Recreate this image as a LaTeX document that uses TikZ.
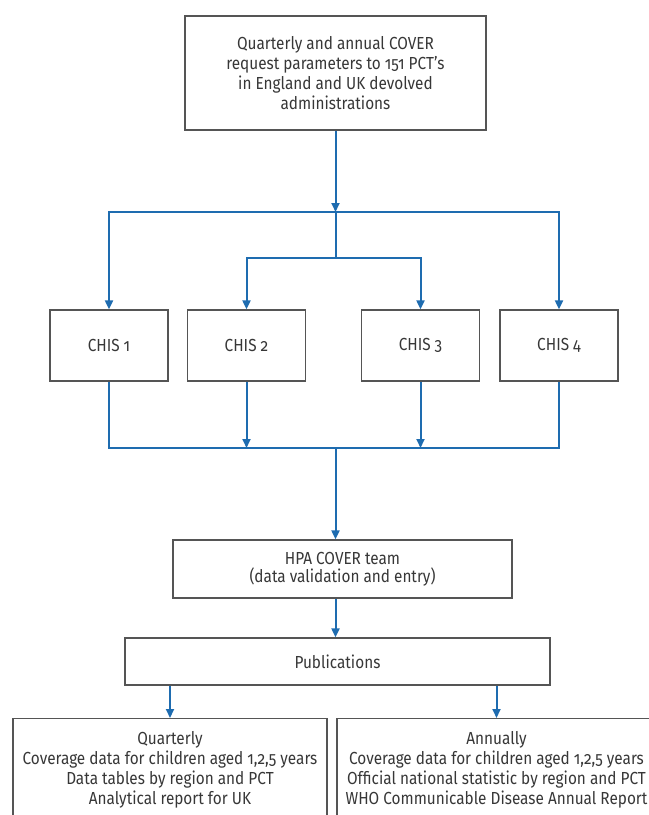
\documentclass[tikz,border=0pt]{standalone}
\usepackage{fontspec}
\setmainfont{Fira Sans}[Numbers=OldStyle,FakeStretch=0.88]
\usetikzlibrary{arrows.meta}
\definecolor{linkblue}{RGB}{30,108,176}
\definecolor{framegray}{RGB}{85,85,85}
\definecolor{textgray}{RGB}{55,55,55}

\begin{document}
\begin{tikzpicture}[x=1bp,y=-1bp,
  box/.style={draw=framegray,line width=1.3bp,text=textgray,align=center,inner sep=0pt,font=\fontsize{17.5}{20}\selectfont},
  link/.style={draw=linkblue,line width=2bp},
  arr/.style={link,-{Triangle[length=9bp,width=8bp]}}]
\useasboundingbox (0,0) rectangle (649,815);
\clip (0,0) rectangle (649,815);
% request and the four CHIS
\node[box,minimum width=301bp,minimum height=114bp] (req) at (335.5,73) {Quarterly and annual COVER\\request parameters to 151 PCT’s\\in England and UK devolved\\administrations};
\foreach \n/\x in {1/109,2/246.5,3/420.5,4/559}{\node[box,minimum width=118bp,minimum height=71bp] (chis\n) at (\x,345.5){CHIS \n};}
\coordinate (split) at (335.5,212); \coordinate (split2) at (335.5,258); \coordinate (join) at (335.5,448);
\draw[arr] (req.south) -- (split);
\draw[arr] (split) -| (chis1.north); \draw[arr] (split) -| (chis4.north);
\draw[link] (split) -- (split2);
\draw[arr] (split2) -| (chis2.north); \draw[arr] (split2) -| (chis3.north);
\draw[link] (chis1.south) |- (join) -| (chis4.south);
\draw[arr] (chis2.south) -- (chis2.south |- join); \draw[arr] (chis3.south) -- (chis3.south |- join);
% team and publications
\node[box,minimum width=339bp,minimum height=58bp,font=\fontsize{17.5}{18}\selectfont] (team) at (342.5,569) {HPA COVER team\\(data validation and entry)};
\node[box,minimum width=425bp,minimum height=47bp] (pub) at (337.5,661.5) {Publications};
\draw[arr] (join) -- (join |- team.north);
\draw[arr] (team.south -| join) -- (join |- pub.north);
\node[box,anchor=north,minimum width=314bp,inner ysep=13bp] (quart) at (170,718) {Quarterly\\Coverage data for children aged 1,2,5 years\\Data tables by region and PCT\\Analytical report for UK};
\node[box,anchor=north,minimum width=319bp,inner ysep=13bp] (annual) at (496.5,718) {Annually\\Coverage data for children aged 1,2,5 years\\Official national statistic by region and PCT\\WHO Communicable Disease Annual Report};
\draw[arr] (pub.south -| quart.north) -- (quart.north);
\draw[arr] (pub.south -| annual.north) -- (annual.north);
\end{tikzpicture}
\end{document}
